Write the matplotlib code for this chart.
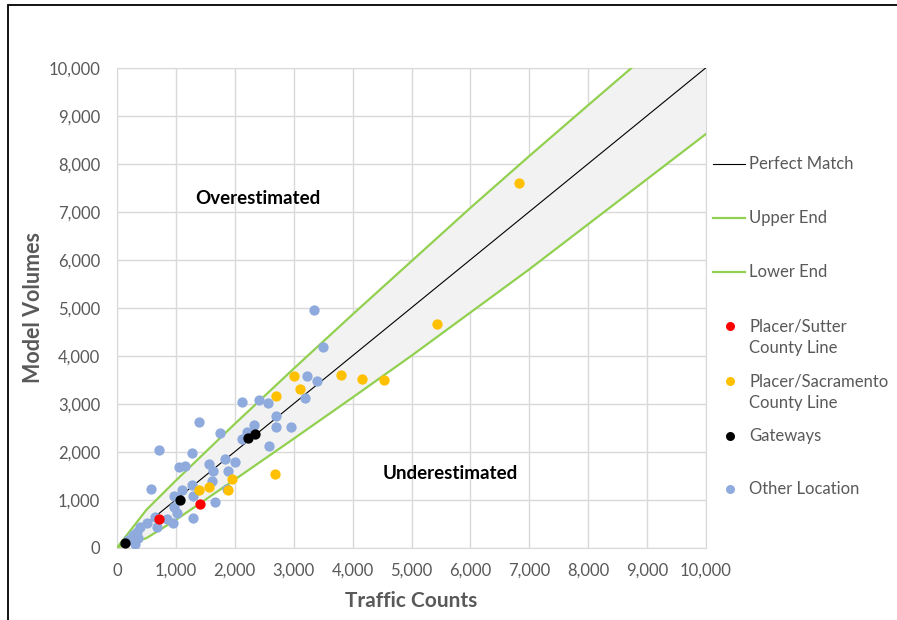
import numpy as np
import matplotlib
matplotlib.use("Agg")
import matplotlib.pyplot as plt
from matplotlib.lines import Line2D
from matplotlib.patches import Rectangle
from matplotlib.ticker import FuncFormatter

plt.rcParams["font.family"] = ["Lato", "DejaVu Sans"]
GREY_TXT = "#595959"
W, H = 897, 620

# --- band curves (traffic count -> model volume) ---
upper_x = [0, 500, 1000, 2000, 3000, 4000, 5000, 6000, 7000, 8000, 8740]
upper_y = [0, 790, 1400, 2580, 3730, 4860, 5970, 7080, 8160, 9220, 10000]
lower_x = [0, 500, 1000, 2000, 3000, 4000, 5000, 6000, 7000, 8000, 9000, 10000]
lower_y = [0, 200, 580, 1420, 2270, 3130, 4000, 4900, 5800, 6740, 7680, 8620]

# --- count locations ---
sutter_x = [1410, 705]
sutter_y = [915, 595]

sacramento_x = [6825, 5430, 4530, 4165, 3800, 3010, 3105, 2700, 2690, 1950, 1565, 1400, 1885]
sacramento_y = [7590, 4660, 3490, 3510, 3600, 3580, 3300, 3170, 1535, 1425, 1260, 1195, 1195]

gateway_x = [2340, 2230, 1070, 135]
gateway_y = [2360, 2280, 995, 95]

other_x = [3340, 3500, 3390, 3225, 3200, 2120, 2410, 2560, 2695, 2705, 2955, 2325,
           2205, 2115, 2580, 1385, 1750, 710, 1270, 1840, 2010, 1555, 1055, 1160,
           1635, 1890, 1610, 1860, 1270, 1100, 1290, 960, 575, 960, 1020, 1660,
           1295, 845, 945, 645, 675, 505, 390, 335, 280, 360, 305, 190]
other_y = [4950, 4180, 3480, 3580, 3110, 3040, 3075, 3025, 2735, 2525, 2510, 2555,
           2415, 2260, 2120, 2620, 2400, 2045, 1965, 1840, 1785, 1745, 1680, 1700,
           1600, 1605, 1395, 1220, 1300, 1200, 1080, 1080, 1215, 840, 730, 960,
           610, 600, 515, 645, 440, 520, 440, 330, 260, 195, 85, 155]

fig = plt.figure(figsize=(W / 100, H / 100), dpi=100)
ax = fig.add_axes([117 / W, 1 - 547.7 / H, 589 / W, 480 / H])

# shaded band between the two curves
band_x = np.linspace(0, 10000, 400)
up = np.interp(band_x, upper_x + [10000], upper_y + [10000 * upper_y[-1] / upper_x[-1]])
lo = np.interp(band_x, lower_x, lower_y)
ax.fill_between(band_x, lo, up, color="#F2F2F2", lw=0, zorder=1)

ax.plot([0, 10000], [0, 10000], color="black", lw=0.8, zorder=3)
ax.plot(upper_x, upper_y, color="#92D050", lw=1.6, zorder=3)
ax.plot(lower_x, lower_y, color="#92D050", lw=1.6, zorder=3)

ms = 55
ax.scatter(other_x, other_y, s=ms, color="#8FAADC", lw=0, zorder=4)
ax.scatter(sacramento_x, sacramento_y, s=ms, color="#FFC000", lw=0, zorder=5)
ax.scatter(sutter_x, sutter_y, s=ms, color="#FF0000", lw=0, zorder=5)
ax.scatter(gateway_x, gateway_y, s=ms, color="black", lw=0, zorder=6)

ax.set_xlim(0, 10000)
ax.set_ylim(0, 10000)
ticks = np.arange(0, 10001, 1000)
ax.set_xticks(ticks)
ax.set_yticks(ticks)
fmt = FuncFormatter(lambda v, _: f"{int(v):,}")
ax.xaxis.set_major_formatter(fmt)
ax.yaxis.set_major_formatter(fmt)
ax.tick_params(length=0, labelsize=12, labelcolor=GREY_TXT)
ax.tick_params(axis="y", pad=12)
ax.tick_params(axis="x", pad=11)
ax.grid(True, color="#D9D9D9", lw=1)
ax.set_axisbelow(True)
for s in ax.spines.values():
    s.set_color("#D9D9D9")

ax.set_xlabel("Traffic Counts", fontsize=15, fontweight="bold", color=GREY_TXT, labelpad=9)
ax.set_ylabel("Model Volumes", fontsize=15.5, fontweight="bold", color=GREY_TXT, labelpad=3)

ax.text(2395, 7285, "Overestimated", fontsize=13.5, fontweight="bold", ha="center", va="center")
ax.text(5655, 1540, "Underestimated", fontsize=13.5, fontweight="bold", ha="center", va="center")

# legend on the right, laid out entry by entry like the original
leg_labels = ["Perfect Match", "Upper End", "Lower End",
              "Placer/Sutter\nCounty Line", "Placer/Sacramento\nCounty Line",
              "Gateways", "Other Location"]
leg_colors = ["black", "#92D050", "#92D050", "#FF0000", "#FFC000", "black", "#8FAADC"]
leg_is_line = [True, True, True, False, False, False, False]
leg_y = [164, 218, 272, 326, 381, 436, 489]   # pixel row of first text line
for lab, col, is_line, yp in zip(leg_labels, leg_colors, leg_is_line, leg_y):
    yf = 1 - yp / H
    if is_line:
        fig.add_artist(Line2D([713 / W, 745 / W], [yf, yf], color=col,
                              lw=0.8 if col == "black" else 1.6, transform=fig.transFigure))
    else:
        fig.add_artist(Line2D([730 / W], [yf], ls="", marker="o", ms=6.5, mew=0,
                              color=col, transform=fig.transFigure))
    n = lab.count("\n")
    fig.text(749 / W, 1 - (yp + 11.5 * n) / H, lab, fontsize=12, color=GREY_TXT,
             ha="left", va="center", linespacing=1.42)

# outer chart frame (runs off the right and bottom of the picture)
fig.patches.append(Rectangle((8 / W, -0.1), 1.2, 1.1 - 5 / H, transform=fig.transFigure,
                             fill=False, ec="black", lw=1.3))

fig.savefig("out.png", dpi=100)
